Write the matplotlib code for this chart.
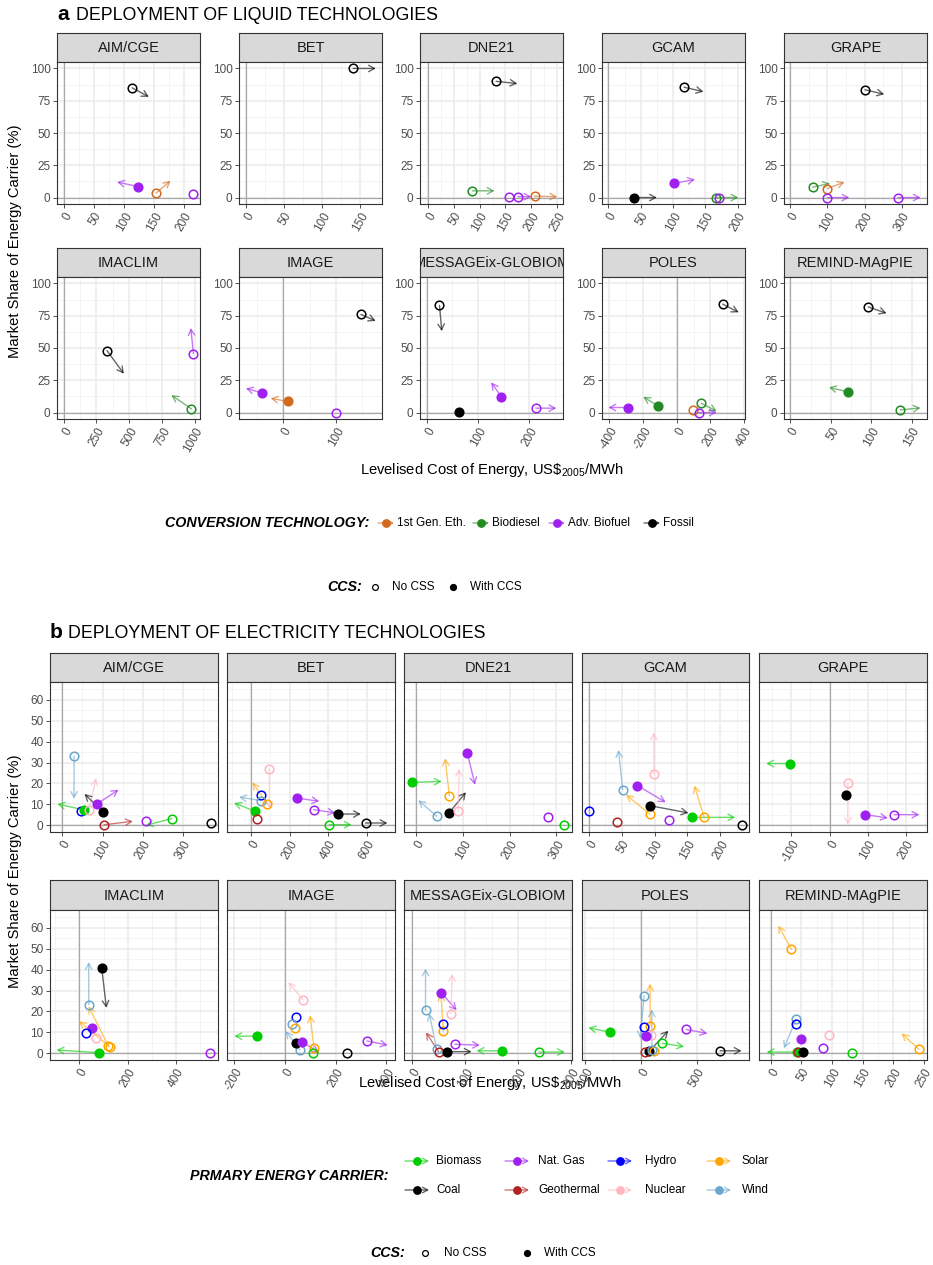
import matplotlib
matplotlib.use("Agg")
import matplotlib.pyplot as plt
from matplotlib.patches import FancyArrowPatch

# ---------------------------------------------------------------- data
LIQ_MODELS = ["AIM/CGE", "BET", "DNE21", "GCAM", "GRAPE",
              "IMACLIM", "IMAGE", "MESSAGEix-GLOBIOM", "POLES", "REMIND-MAgPIE"]
LIQ_TECHS = ["1st Gen. Eth.", "Biodiesel", "Adv. Biofuel", "Fossil"]

liq_model = (["AIM/CGE"] * 4 + ["BET"] + ["DNE21"] * 5 + ["GCAM"] * 5 + ["GRAPE"] * 5 +
             ["IMACLIM"] * 3 + ["IMAGE"] * 4 + ["MESSAGEix-GLOBIOM"] * 4 + ["POLES"] * 6 +
             ["REMIND-MAgPIE"] * 3)
liq_tech = ["Fossil", "Adv. Biofuel", "1st Gen. Eth.", "Adv. Biofuel",
            "Fossil",
            "Fossil", "Biodiesel", "Adv. Biofuel", "Adv. Biofuel", "1st Gen. Eth.",
            "Fossil", "Adv. Biofuel", "Fossil", "Biodiesel", "Adv. Biofuel",
            "Fossil", "Biodiesel", "1st Gen. Eth.", "Adv. Biofuel", "Adv. Biofuel",
            "Fossil", "Adv. Biofuel", "Biodiesel",
            "Fossil", "Adv. Biofuel", "1st Gen. Eth.", "Adv. Biofuel",
            "Fossil", "Fossil", "Adv. Biofuel", "Adv. Biofuel",
            "Fossil", "Adv. Biofuel", "Biodiesel", "Biodiesel", "1st Gen. Eth.", "Adv. Biofuel",
            "Fossil", "Biodiesel", "Biodiesel"]
liq_ccs = [0, 1, 0, 0,
           0,
           0, 0, 0, 0, 0,
           0, 1, 1, 0, 0,
           0, 0, 0, 0, 0,
           0, 0, 0,
           0, 1, 1, 0,
           0, 1, 1, 0,
           0, 1, 1, 0, 0, 0,
           0, 1, 0]
liq_lcoe = [114, 124, 154, 216,
            141,
            132, 86, 156, 174, 206,
            117, 102, 39, 166, 171,
            201, 60, 100, 100, 290,
            331, 989, 974,
            147, -41, 8, 99.5,
            25, 63, 146, 213,
            274, -292, -111, 146, 97, 130,
            96.4, 71.6, 135.7]
liq_share = [85, 8.5, 3.5, 2.5,
             100,
             90, 5.2, 0.7, 0.7, 1.0,
             85.5, 11, 0, 0, 0,
             83.5, 8, 7, 0, 0,
             48, 45.7, 2.8,
             76, 15.3, 8.6, 0,
             83, 0.5, 12, 3.4,
             84, 3.9, 5.1, 7.2, 2, 0,
             81.8, 16, 2]
liq_lcoe_end = [142, 89, 178, 216,
                171,
                173, 129, 156, 200, 250,
                147, 134, 75, 201, 171,
                253, 107, 146, 159, 351,
                459, 969, 821,
                175, -71, -24, 99.5,
                29.5, 63, 126, 253,
                369, -406, -199, 238, 97, 238,
                119, 47.7, 161]
liq_share_end = [78, 12, 13, 2.5,
                 100,
                 88.3, 5.2, 0.7, 0.7, 0.7,
                 82, 14, 0, 0, 0,
                 80, 11, 12, 0, 0,
                 30, 65.5, 13.5,
                 71, 18.7, 11, 0,
                 63, 0.5, 23.4, 3.4,
                 77.6, 3.9, 12.2, 1, 2, 0,
                 76.9, 19.5, 3.6]

ELE_MODELS = LIQ_MODELS
ELE_CARRIERS = ["Biomass", "Nat. Gas", "Hydro", "Solar", "Coal", "Geothermal", "Nuclear", "Wind"]

ele_model = (["AIM/CGE"] * 10 + ["BET"] * 11 + ["DNE21"] * 8 + ["GCAM"] * 11 + ["GRAPE"] * 5 +
             ["IMACLIM"] * 9 + ["IMAGE"] * 12 + ["MESSAGEix-GLOBIOM"] * 11 + ["POLES"] * 13 +
             ["REMIND-MAgPIE"] * 11)
ele_carrier = [
    "Wind", "Hydro", "Biomass", "Nuclear", "Nat. Gas", "Coal", "Geothermal", "Nat. Gas", "Biomass", "Coal",
    "Biomass", "Geothermal", "Hydro", "Wind", "Solar", "Nuclear", "Nat. Gas", "Nat. Gas", "Coal", "Biomass", "Coal",
    "Biomass", "Wind", "Solar", "Coal", "Nuclear", "Nat. Gas", "Nat. Gas", "Biomass",
    "Hydro", "Geothermal", "Wind", "Nat. Gas", "Solar", "Coal", "Nuclear", "Nat. Gas", "Biomass", "Solar", "Coal",
    "Biomass", "Nuclear", "Coal", "Nat. Gas", "Nat. Gas",
    "Wind", "Coal", "Nat. Gas", "Hydro", "Nuclear", "Solar", "Solar", "Biomass", "Nat. Gas",
    "Biomass", "Nuclear", "Hydro", "Wind", "Wind", "Solar", "Coal", "Nat. Gas", "Solar", "Biomass", "Coal", "Nat. Gas",
    "Wind", "Nat. Gas", "Solar", "Hydro", "Nuclear", "Nat. Gas", "Wind", "Geothermal", "Coal", "Biomass", "Biomass",
    "Biomass", "Wind", "Solar", "Hydro", "Nuclear", "Nat. Gas", "Coal", "Geothermal", "Solar", "Wind", "Biomass",
    "Nat. Gas", "Coal",
    "Solar", "Wind", "Hydro", "Nat. Gas", "Nuclear", "Nat. Gas", "Biomass", "Biomass", "Geothermal", "Coal", "Solar"]
ele_ccs = [
    0, 0, 1, 0, 1, 1, 0, 0, 0, 0,
    1, 0, 0, 0, 0, 0, 1, 0, 1, 0, 0,
    1, 0, 0, 1, 0, 1, 0, 0,
    0, 0, 0, 1, 0, 1, 0, 0, 1, 0, 0,
    1, 0, 1, 1, 0,
    0, 1, 1, 0, 0, 0, 0, 1, 0,
    1, 0, 0, 0, 0, 0, 1, 1, 0, 0, 0, 0,
    0, 1, 0, 0, 0, 0, 0, 0, 1, 1, 0,
    1, 0, 0, 0, 0, 1, 1, 0, 0, 0, 0, 0, 0,
    0, 0, 0, 1, 0, 0, 0, 1, 0, 1, 0]
ele_lcoe = [
    29, 47, 55, 66.6, 87, 101, 104, 208, 273, 370,
    20.7, 29.5, 50, 52, 84.5, 95, 237, 325, 452, 406, 594,
    -9, 44, 71, 71, 90, 109.5, 283, 317,
    0, 42, 51.4, 73.8, 92.6, 92.6, 99, 122.6, 157, 175.6, 233,
    -104.7, 48, 43, 93.5, 170,
    38.6, 92.4, 50.7, 27.6, 67.5, 120, 125, 81.5, 543,
    -112, 70, 43, 27.6, 59, 39.4, 43.4, 68, 114, 109, 244.5, 323.5,
    26, 55.6, 59.3, 59.3, 73.7, 81.2, 47, 51, 65.6, 170, 239.4,
    -277.5, 27, 80.6, 29.5, 86.6, 44.8, 74.6, 38.8, 119, 95.5, 188, 403, 707,
    34, 41.3, 40.8, 49.4, 95.6, 84.8, 133, 42.4, 44, 53, 242]
ele_share = [
    33, 7, 7.3, 7.5, 10.3, 6.5, 0.3, 2, 3.2, 1,
    6.7, 3.2, 14.5, 11.8, 10.2, 27, 13, 7.5, 5.4, 0.3, 1.1,
    20.5, 4.3, 14.2, 6.1, 6.7, 34.5, 3.8, 0.2,
    7, 1.6, 17, 19, 5.4, 9.4, 24.5, 2.7, 3.8, 3.8, 0.3,
    29.5, 20, 14.3, 5.1, 5.1,
    23.3, 41, 12.2, 9.5, 7.1, 3.5, 3.2, 0.3, 0.2,
    8.2, 25.7, 17.4, 13.8, 1.6, 11.9, 5, 5.5, 2.7, 0.2, 0.3, 5.9,
    20.6, 29, 10.6, 13.8, 19, 4.3, 2, 0.5, 0.8, 1.2, 0.6,
    10.1, 27.4, 13, 12.4, 8.7, 8.4, 1.1, 0.5, 1.1, 1.5, 4.8, 11.4, 1.2,
    49.7, 16.2, 13.8, 6.8, 8.9, 2.4, 0.3, 0.6, 0.5, 0.6, 1.9]
ele_lcoe_end = [
    29, 47, -12.5, 84, 140, 55, 175.5, 208, 208, 370,
    -88, 29.5, 50, -62, 7, 95, 354, 437, 570, 522, 708,
    54.6, 4.5, 62, 106.6, 92, 126, 283, 317,
    0, 42, 44.8, 117, 56.5, 151.7, 99, 122.6, 223, 160.8, 233,
    -166, 48, 43, 153, 235.6,
    38.6, 112, 50.7, 27.6, 67.5, 38, -2, -95, 543,
    -200, 13, 43, 27.6, 2.8, 39.4, 43.4, 135, 99, 109, 244.5, 405,
    26, 84.4, 55, 59.3, 76, 128, 33, 27, 112.6, 122, 287.6,
    -472, -9, 80.6, 29.5, 86.6, 44.8, 244, 38.8, 119, 95.5, 385, 594, 901,
    12.5, 21.7, 40.8, 49.4, 95.6, 84.8, 133, -6.5, 44, 53, 213.6]
ele_share_end = [
    12.7, 7, 10.2, 22.6, 17, 15, 1.9, 2, 0, 1,
    10.7, 3.2, 14.5, 13.5, 20.5, 8, 11.5, 5.9, 5.4, 0.3, 1.1,
    21, 12, 32, 15.8, 27, 19.4, 3.8, 0.2,
    7, 1.6, 36, 11, 14.6, 5.9, 44.4, 2.7, 3.8, 19, 0.3,
    29.5, 0.3, 14.3, 3.5, 5.1,
    43.6, 21.7, 12.2, 9.5, 7.1, 22.5, 15.4, 1.6, 0.2,
    8.2, 34, 17.4, 13.8, 10.6, 11.9, 5, 0.3, 18.2, 0.2, 0.3, 3.9,
    40.5, 20.6, 28.6, 13.8, 38, 3.9, 19, 10, 0.8, 1.2, 0.6,
    12.2, 7.1, 33.3, 12.4, 8.7, 8.4, 10.8, 0.5, 1.1, 21, 3.2, 9.5, 1.2,
    61, 2.4, 13.8, 6.8, 8.9, 2.4, 0.3, 0.6, 0.5, 0.6, 9.5]

# ---------------------------------------------------------------- styles / layout
LIQ_COLORS = {"1st Gen. Eth.": "#D2691E", "Biodiesel": "#228B22",
              "Adv. Biofuel": "#A020F0", "Fossil": "#000000"}
ELE_COLORS = {"Biomass": "#00CD00", "Nat. Gas": "#A020F0", "Hydro": "#0000FF", "Solar": "#FFA500",
              "Coal": "#000000", "Geothermal": "#B22222", "Nuclear": "#FFB6C1", "Wind": "#6CA6CD"}

LIQ_XLIM = {"AIM/CGE": (-11, 227), "BET": (-8.8, 179), "DNE21": (-15, 261), "GCAM": (-10, 211.3),
            "GRAPE": (-17, 368), "IMACLIM": (-50, 1039), "IMAGE": (-84, 187),
            "MESSAGEix-GLOBIOM": (-13, 266), "POLES": (-444, 406), "REMIND-MAgPIE": (-8, 169)}
LIQ_XTICKS = {"AIM/CGE": [0, 50, 100, 150, 200], "BET": [0, 50, 100, 150],
              "DNE21": [0, 50, 100, 150, 200, 250], "GCAM": [0, 50, 100, 150, 200],
              "GRAPE": [0, 100, 200, 300], "IMACLIM": [0, 250, 500, 750, 1000], "IMAGE": [0, 100],
              "MESSAGEix-GLOBIOM": [0, 100, 200], "POLES": [-400, -200, 0, 200, 400],
              "REMIND-MAgPIE": [0, 50, 100, 150]}
ELE_XLIM = {"AIM/CGE": (-31, 388), "BET": (-125, 747), "DNE21": (-26, 333.5), "GCAM": (-10.7, 244),
            "GRAPE": (-185, 255.7), "IMACLIM": (-122, 575), "IMAGE": (-229, 434),
            "MESSAGEix-GLOBIOM": (-14.4, 301), "POLES": (-530, 967), "REMIND-MAgPIE": (-19, 255)}
ELE_XTICKS = {"AIM/CGE": [0, 100, 200, 300], "BET": [0, 200, 400, 600], "DNE21": [0, 100, 200, 300],
              "GCAM": [0, 50, 100, 150, 200], "GRAPE": [-100, 0, 100, 200], "IMACLIM": [0, 200, 400],
              "IMAGE": [-200, 0, 200, 400], "MESSAGEix-GLOBIOM": [0, 100, 200, 300],
              "POLES": [-500, 0, 500], "REMIND-MAgPIE": [0, 50, 100, 150, 200, 250]}

W, H = 933, 1265
FONT = ["Liberation Sans", "DejaVu Sans"]
plt.rcParams["font.family"] = FONT
plt.rcParams["mathtext.fontset"] = "custom"
plt.rcParams["mathtext.rm"] = "Liberation Sans"
plt.rcParams["mathtext.it"] = "Liberation Sans:italic"
plt.rcParams["mathtext.bf"] = "Liberation Sans:bold"
plt.rcParams["axes.unicode_minus"] = False

fig = plt.figure(figsize=(W / 100, H / 100), dpi=100)

GRID = "#EBEBEB"
BORDER = "#333333"
TICKTXT = "#4D4D4D"
ZERO = "#A8A8A8"
LEG_T = 10.3
LEG_L = 8.5


def add_px_axes(x0, y0, x1, y1):
    return fig.add_axes([x0 / W, 1 - y1 / H, (x1 - x0) / W, (y1 - y0) / H])


def minor_of(ticks, lim):
    step = ticks[1] - ticks[0]
    out = []
    t = ticks[0] - step / 2
    while t <= lim[1]:
        if t >= lim[0]:
            out.append(t)
        t += step
    return out


def draw_facet(x0, x1, sy0, py0, py1, name, rows, xlim, xticks, ylim, yticks,
               show_y, colors):
    sax = add_px_axes(x0, sy0, x1, py0)
    sax.set_facecolor("#D9D9D9")
    sax.set_xticks([]); sax.set_yticks([])
    for s in sax.spines.values():
        s.set_color(BORDER); s.set_linewidth(0.8)
    sax.text(0.5, 0.47, name, transform=sax.transAxes, ha="center", va="center",
             fontsize=10.5, color="#1A1A1A", clip_on=True)

    ax = add_px_axes(x0, py0, x1, py1)
    ax.set_xlim(*xlim); ax.set_ylim(*ylim)
    ax.set_xticks(xticks)
    ax.set_xticks(minor_of(xticks, xlim), minor=True)
    ax.set_yticks(yticks)
    ax.set_yticks(minor_of(yticks, ylim), minor=True)
    ax.set_xticklabels([str(t) for t in xticks], rotation=60, ha="right", va="top",
                       rotation_mode="anchor")
    ax.set_yticklabels([str(t) for t in yticks])
    ax.grid(which="major", color=GRID, lw=1.1, zorder=0)
    ax.grid(which="minor", color="#F2F2F2", lw=0.6, zorder=0)
    ax.set_axisbelow(True)
    ax.tick_params(which="major", length=2.8, width=0.6, color=BORDER,
                   labelsize=8.5, labelcolor=TICKTXT, pad=1.8)
    ax.tick_params(which="minor", length=0)
    if not show_y:
        ax.tick_params(axis="y", left=False, labelleft=False)
    for s in ax.spines.values():
        s.set_color(BORDER); s.set_linewidth(0.8)
    ax.axvline(0, color=ZERO, lw=0.9, zorder=1)
    ax.axhline(0, color=ZERO, lw=0.9, zorder=1)

    for cat, ccs, xs, ys, xe, ye in rows:
        col = colors[cat]
        if (xs, ys) != (xe, ye):
            ar = FancyArrowPatch((xs, ys), (xe, ye),
                                 arrowstyle="->,head_length=4.2,head_width=2.3",
                                 mutation_scale=1, shrinkA=0, shrinkB=0,
                                 color=col, alpha=0.6, lw=1.0, zorder=2)
            ax.add_patch(ar)
    for cat, ccs, xs, ys, xe, ye in rows:
        col = colors[cat]
        ax.plot([xs], [ys], marker="o", ms=6.2, mew=1.1, mec=col,
                mfc=col if ccs else "none", ls="none", zorder=3, clip_on=False)
    return ax


def rows_for(model, mlist, clist, cclist, x0l, y0l, x1l, y1l):
    return [(clist[i], cclist[i], x0l[i], y0l[i], x1l[i], y1l[i])
            for i in range(len(mlist)) if mlist[i] == model]


# ---------------------------------------------------------------- panel a
A_COLS = [(57, 200), (239, 382), (420, 563), (602, 745), (784, 927)]
A_ROWS = [(33, 62, 204), (248, 277, 419)]
for k, m in enumerate(LIQ_MODELS):
    r, c = divmod(k, 5)
    rows = rows_for(m, liq_model, liq_tech, liq_ccs, liq_lcoe, liq_share, liq_lcoe_end, liq_share_end)
    draw_facet(A_COLS[c][0], A_COLS[c][1], A_ROWS[r][0], A_ROWS[r][1], A_ROWS[r][2], m, rows,
               LIQ_XLIM[m], LIQ_XTICKS[m], (-5, 105), [0, 25, 50, 75, 100], True, LIQ_COLORS)

# ---------------------------------------------------------------- panel b
B_COLS = [(50, 218), (227, 395), (404, 572), (582, 749), (759, 927)]
B_ROWS = [(653, 682, 832), (880, 910, 1060)]
for k, m in enumerate(ELE_MODELS):
    r, c = divmod(k, 5)
    rows = rows_for(m, ele_model, ele_carrier, ele_ccs, ele_lcoe, ele_share, ele_lcoe_end, ele_share_end)
    draw_facet(B_COLS[c][0], B_COLS[c][1], B_ROWS[r][0], B_ROWS[r][1], B_ROWS[r][2], m, rows,
               ELE_XLIM[m], ELE_XTICKS[m], (-3.2, 68.5), [0, 10, 20, 30, 40, 50, 60], c == 0,
               ELE_COLORS)

# ---------------------------------------------------------------- overlay: titles & legends
lax = fig.add_axes([0, 0, 1, 1], zorder=-1)
lax.set_xlim(0, W); lax.set_ylim(H, 0)
lax.axis("off")

lax.text(57, 15, "a", fontsize=15, fontweight="bold", ha="left", va="center")
lax.text(76, 16, "DEPLOYMENT OF LIQUID TECHNOLOGIES", fontsize=12.8, ha="left", va="center")
lax.text(50, 633, "b", fontsize=15, fontweight="bold", ha="left", va="center")
lax.text(68, 634, "DEPLOYMENT OF ELECTRICITY TECHNOLOGIES", fontsize=12.8, ha="left", va="center")

YLAB = "Market Share of Energy Carrier (%)"
XLAB = r"Levelised Cost of Energy, US\$$_{\mathrm{2005}}$/MWh"
lax.text(15, 241, YLAB, rotation=90, fontsize=10.6, ha="center", va="center")
lax.text(15, 871, YLAB, rotation=90, fontsize=10.6, ha="center", va="center")
lax.text(492, 470, XLAB, fontsize=10.6, ha="center", va="center")
lax.text(490, 1083, XLAB, fontsize=10.6, ha="center", va="center")


def legend_key(cx, cy, col, half=8):
    ar = FancyArrowPatch((cx - half, cy), (cx + half, cy),
                         arrowstyle="->,head_length=3.6,head_width=2.0",
                         mutation_scale=1, shrinkA=0, shrinkB=0,
                         color=col, alpha=0.6, lw=1.0)
    lax.add_patch(ar)
    lax.plot([cx], [cy], marker="o", ms=5.3, color=col, ls="none")


# legend a : conversion technology
lax.text(165, 523, "CONVERSION TECHNOLOGY:", fontsize=LEG_T, fontweight="bold",
         fontstyle="italic", ha="left", va="center")
for cx, lx, t in zip([386, 481, 557, 652], [397, 492, 568, 663], LIQ_TECHS):
    legend_key(cx, 523, LIQ_COLORS[t])
    lax.text(lx, 523, t, fontsize=LEG_L, ha="left", va="center")

# legend a : CCS
lax.text(362, 587, "CCS:", fontsize=LEG_T, fontweight="bold", fontstyle="italic", ha="right", va="center")
lax.plot([375], [587], marker="o", ms=4.2, mfc="none", mec="black", mew=0.9, ls="none")
lax.text(392.5, 587, "No CSS", fontsize=LEG_L, ha="left", va="center")
lax.plot([452.5], [587], marker="o", ms=4.2, color="black", ls="none")
lax.text(470, 587, "With CCS", fontsize=LEG_L, ha="left", va="center")

# legend b : primary energy carrier
lax.text(389, 1176, "PRMARY ENERGY CARRIER:", fontsize=LEG_T, fontweight="bold",
         fontstyle="italic", ha="right", va="center")
b_keys = [417, 517, 620, 719]
b_labs = [436, 538, 645, 742]
for i, t in enumerate(ELE_CARRIERS):
    rr, cc = divmod(i, 4)
    cy = 1161 if rr == 0 else 1190
    legend_key(b_keys[cc], cy, ELE_COLORS[t], half=12)
    lax.text(b_labs[cc], cy, t, fontsize=LEG_L, ha="left", va="center")

# legend b : CCS
lax.text(405, 1253, "CCS:", fontsize=LEG_T, fontweight="bold", fontstyle="italic", ha="right", va="center")
lax.plot([425], [1253], marker="o", ms=4.2, mfc="none", mec="black", mew=0.9, ls="none")
lax.text(444, 1253, "No CSS", fontsize=LEG_L, ha="left", va="center")
lax.plot([527], [1253], marker="o", ms=4.2, color="black", ls="none")
lax.text(544, 1253, "With CCS", fontsize=LEG_L, ha="left", va="center")

fig.savefig("out.png", dpi=100, facecolor="white")
